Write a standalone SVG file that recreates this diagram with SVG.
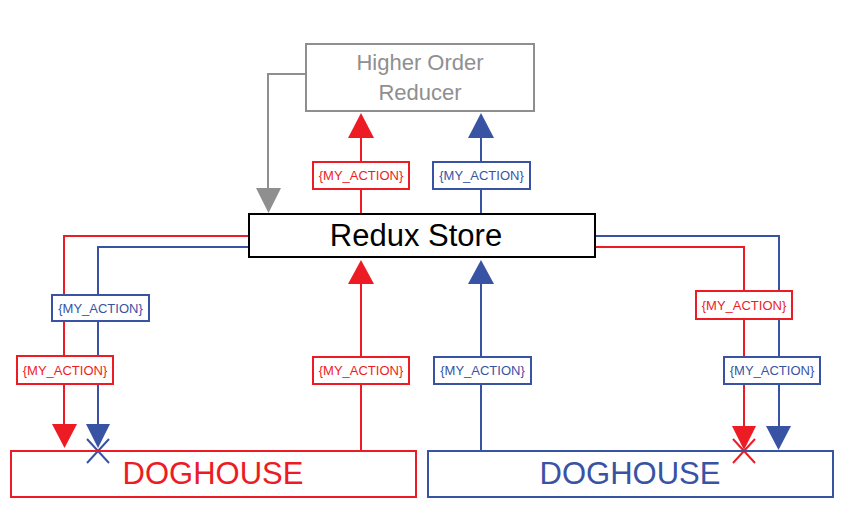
<svg xmlns="http://www.w3.org/2000/svg" width="847" height="524" viewBox="0 0 847 524">
<style>
text{font-family:"Liberation Sans",Arial,sans-serif;text-anchor:middle}
.r{stroke:#ed1c24;fill:none;stroke-width:2}
.b{stroke:#3953a4;fill:none;stroke-width:2}
.g{stroke:#8f8f8f;fill:none;stroke-width:2}
.rf{fill:#ed1c24}
.bf{fill:#3953a4}
.gf{fill:#8f8f8f}
.lbl{fill:#fff;stroke-width:2}
.lt{font-size:13px}
</style>
<rect width="847" height="524" fill="#fff"/>
<g id="connectors">
<polyline class="g" points="306,74 268,74 268,190"/>
<polygon class="gf" points="256,188 281,188 268.5,213"/>
<line class="r" x1="361" y1="214" x2="361" y2="136"/>
<polygon class="rf" points="348,138 374,138 361,113"/>
<line class="b" x1="481" y1="214" x2="481" y2="136"/>
<polygon class="bf" points="468,138 494,138 481,113"/>
<polyline class="r" points="249,236 64,236 64,426"/>
<polygon class="rf" points="52,424 77,424 64.5,448"/>
<polyline class="b" points="249,247 98,247 98,426"/>
<polygon class="bf" points="86,424 110,424 98,448"/>
<path class="b" d="M87,439 L109,463 M109,439 L87,463" stroke-width="2.5"/>
<line class="r" x1="361" y1="451" x2="361" y2="282"/>
<polygon class="rf" points="348,284 374,284 361,260"/>
<line class="b" x1="481" y1="451" x2="481" y2="282"/>
<polygon class="bf" points="468,284 494,284 481,260"/>
<polyline class="b" points="595,236 779,236 779,428"/>
<polygon class="bf" points="766,426 791,426 778.5,450"/>
<polyline class="r" points="595,247 744,247 744,428"/>
<polygon class="rf" points="732,426 756,426 744,450"/>
<path class="r" d="M733,439 L755,463 M755,439 L733,463" stroke-width="2.5"/>
<g id="labels">
<rect class="r lbl" x="313" y="162" width="96" height="27"/><text class="lt rf" x="361" y="180">{MY_ACTION}</text>
<rect class="b lbl" x="433" y="162" width="97" height="27"/><text class="lt bf" x="481.5" y="180">{MY_ACTION}</text>
<rect class="b lbl" x="52" y="295" width="97" height="26"/><text class="lt bf" x="100.5" y="312.5">{MY_ACTION}</text>
<rect class="r lbl" x="17" y="356" width="96" height="28"/><text class="lt rf" x="65" y="374.5">{MY_ACTION}</text>
<rect class="r lbl" x="313" y="357" width="96" height="27"/><text class="lt rf" x="361" y="375">{MY_ACTION}</text>
<rect class="b lbl" x="434" y="357" width="97" height="27"/><text class="lt bf" x="482.5" y="375">{MY_ACTION}</text>
<rect class="r lbl" x="696" y="291" width="96" height="28"/><text class="lt rf" x="744" y="309.5">{MY_ACTION}</text>
<rect class="b lbl" x="724" y="357" width="96" height="27"/><text class="lt bf" x="772" y="375">{MY_ACTION}</text>
</g>
</g>
<g id="hor">
<rect class="g" x="306" y="44" width="228" height="67" fill="#fff"/>
<text x="420" y="70" font-size="22" class="gf">Higher Order</text>
<text x="420" y="100" font-size="22" class="gf">Reducer</text>
</g>
<g id="store">
<rect x="249" y="214" width="346" height="43" fill="#fff" stroke="#000" stroke-width="2"/>
<text x="416" y="246" font-size="31" fill="#000">Redux Store</text>
</g>
<g id="doghouse-red">
<rect class="r" x="11" y="451" width="405" height="46"/>
<text x="213" y="484" font-size="31" class="rf">DOGHOUSE</text>
</g>
<g id="doghouse-blue">
<rect class="b" x="428" y="451" width="405" height="46"/>
<text x="630" y="484" font-size="31" class="bf">DOGHOUSE</text>
</g>
</svg>
